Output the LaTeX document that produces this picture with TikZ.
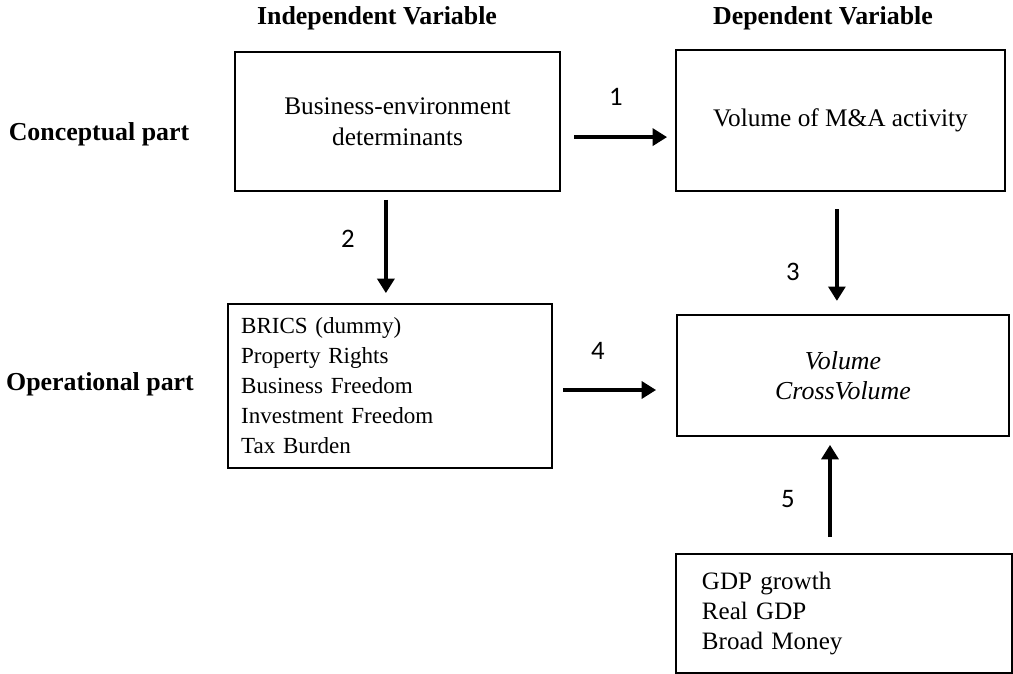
\documentclass[tikz,border=0pt]{standalone}
\usepackage{fontspec}
\setmainfont{Liberation Serif}
\newfontfamily\numfont{Carlito}
\usetikzlibrary{arrows.meta}

\begin{document}
\begin{tikzpicture}[
  x=0.025cm, y=-0.025cm,
  every node/.style={font=\fontsize{18}{22}\selectfont},
  box/.style={draw, line width=1.2pt, align=center, inner sep=0pt},
  listbox/.style={draw, line width=1.2pt, align=left, inner ysep=0pt},
  head/.style={font=\fontsize{18.4}{22}\selectfont\bfseries},
  num/.style={font=\fontsize{19}{22}\selectfont\numfont},
  arrow/.style={-{Triangle[length=0.36cm, width=0.42cm]}, line width=2.6pt}
]
\useasboundingbox (0,0) rectangle (1013,674);

% headings
\node[head] (indep) at (377,18) {Independent Variable};
\node[head] (dep) at (823,18) {Dependent Variable};
\node[head] (concept) at (99,134) {Conceptual part};
\node[head] (oper) at (100,384) {Operational part};

% boxes
\node[box, minimum width=8.125cm, minimum height=3.475cm] (bed) at (397.5,121.5)
  {Business-environment\\determinants};
\node[box, minimum width=8.225cm, minimum height=3.525cm] (vol) at (840.5,120.5)
  {Volume of M\&A activity};
\node[listbox, font=\fontsize{16.4}{21.3}\selectfont, inner xsep=0.33cm, text width=7.44cm,
  minimum height=4.1cm] (brics) at (390,386)
  {BRICS (dummy)\\Property Rights\\Business Freedom\\Investment Freedom\\Tax Burden};
\node[box, font=\fontsize{18.4}{21.5}\selectfont\itshape, minimum width=8.3cm, minimum height=3.025cm]
  (cross) at (843,375.5) {Volume\\CrossVolume};
\node[listbox, font=\fontsize{17.8}{21.5}\selectfont, inner xsep=0.65cm, text width=7.1cm,
  minimum height=2.975cm] (gdp) at (844,613.5)
  {GDP growth\\Real GDP\\Broad Money};

% arrows
\draw[arrow, shorten <=0.33cm, shorten >=0.2cm] ([yshift=-0.39cm]bed.east) -- ([yshift=-0.39cm]bed.east -| vol.west);
\draw[arrow, shorten <=0.2cm, shorten >=0.25cm] ([xshift=-0.29cm]bed.south) -- ([xshift=-0.29cm]bed.south |- brics.north);
\draw[arrow, shorten <=0.43cm, shorten >=0.33cm] ([xshift=-0.09cm]vol.south) -- ([xshift=-0.09cm]vol.south |- cross.north);
\draw[arrow, shorten <=0.25cm, shorten >=0.5cm] ([yshift=-0.1cm]brics.east) -- ([yshift=-0.1cm]brics.east -| cross.west);
\draw[arrow, shorten <=0.4cm, shorten >=0.2cm] ([xshift=-0.35cm]gdp.north) -- ([xshift=-0.35cm]gdp.north |- cross.south);

% numbers
\node[num] (n1) at (616,97) {1};
\node[num] (n2) at (348,239) {2};
\node[num] (n3) at (793,272) {3};
\node[num] (n4) at (598,351) {4};
\node[num] (n5) at (788,499) {5};
\end{tikzpicture}
\end{document}
